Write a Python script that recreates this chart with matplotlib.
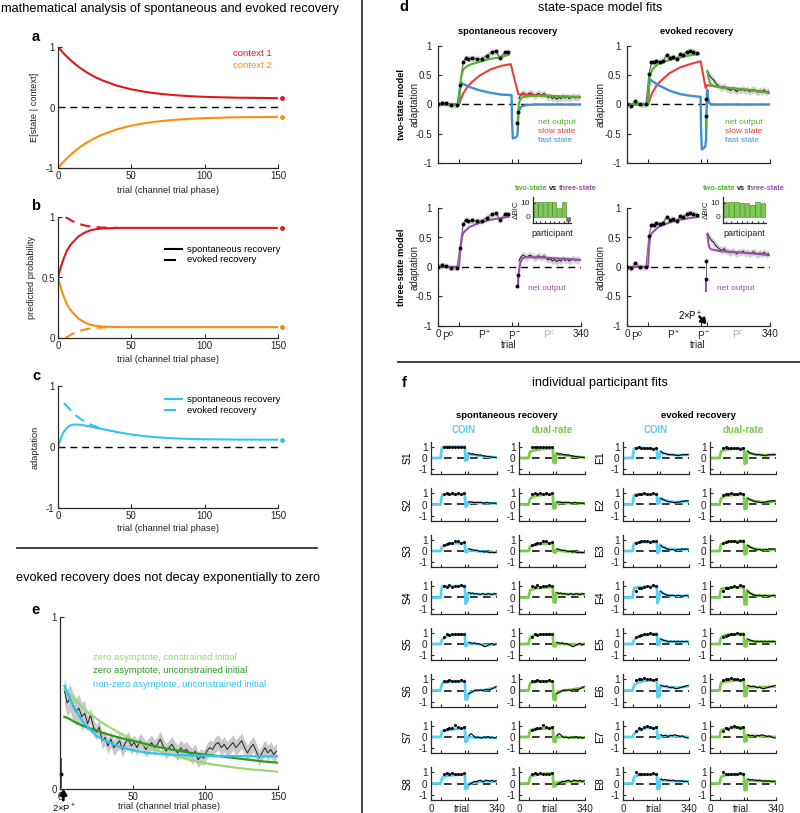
import numpy as np
import matplotlib.pyplot as plt
from matplotlib.lines import Line2D

plt.rcParams['font.family'] = ['Liberation Sans', 'DejaVu Sans']
plt.rcParams['mathtext.fontset'] = 'custom'
plt.rcParams['mathtext.rm'] = 'Liberation Sans'
plt.rcParams['mathtext.it'] = 'Liberation Sans:italic'
plt.rcParams['mathtext.bf'] = 'Liberation Sans:bold'
plt.rcParams['axes.linewidth'] = 0.9

# colours
RED = '#e3161f'
ORANGE = '#ff8b10'
CYAN = '#2ec4f3'
LIGHT_GREEN = '#9bd873'
DARK_GREEN = '#2f9a20'
NET_GREEN = '#4cb526'
SLOW_RED = '#ee3b3b'
FAST_BLUE = '#3f8fd2'
PURPLE = '#9b4fae'
COIN_C = '#5ccdf3'
DUAL_C = '#7acb4e'
INK = '#222222'

# ---------------- panel a ----------------
a_trials = [0, 5, 10, 15, 20, 25, 30, 40, 50, 60, 70, 80, 90, 100, 120, 150]
a_ctx1 = [1.0, 0.865, 0.751, 0.655, 0.574, 0.507, 0.450, 0.362, 0.300, 0.256, 0.225, 0.203, 0.187, 0.176, 0.163, 0.155]
a_ctx2 = [-1.0, -0.865, -0.751, -0.655, -0.574, -0.507, -0.450, -0.362, -0.300, -0.256, -0.225, -0.203, -0.187, -0.176, -0.163, -0.155]

# ---------------- panel b ----------------
b_trials = [0, 2, 4, 6, 8, 10, 14, 18, 22, 26, 30, 40, 150]
b_spont_ctx1 = [0.5, 0.59, 0.66, 0.72, 0.76, 0.79, 0.84, 0.87, 0.89, 0.90, 0.905, 0.91, 0.91]
b_spont_ctx2 = [0.5, 0.41, 0.34, 0.28, 0.24, 0.21, 0.16, 0.13, 0.11, 0.10, 0.095, 0.09, 0.09]
b_ev_trials = [5, 10, 15, 20, 25, 30, 40]
b_ev_ctx1 = [1.0, 0.965, 0.94, 0.925, 0.917, 0.913, 0.91]
b_ev_ctx2 = [0.0, 0.035, 0.06, 0.075, 0.083, 0.087, 0.09]

# ---------------- panel c ----------------
c_trials = [0, 2, 4, 6, 8, 10, 12, 15, 20, 25, 30, 40, 50, 60, 70, 80, 90, 100, 120, 150]
c_spont = [0, 0.15, 0.25, 0.31, 0.35, 0.365, 0.37, 0.365, 0.345, 0.32, 0.295, 0.245, 0.205, 0.175, 0.155,
           0.14, 0.132, 0.127, 0.122, 0.12]
c_ev_trials = [4, 8, 12, 16, 20, 25, 30]
c_ev = [0.72, 0.62, 0.52, 0.45, 0.39, 0.34, 0.30]

# ---------------- panel e ----------------
e_adapt = [0.57, 0.50, 0.53, 0.48, 0.45, 0.47, 0.42, 0.44, 0.38, 0.43,
           0.36, 0.33, 0.36, 0.28, 0.30, 0.25, 0.29, 0.24, 0.26, 0.28,
           0.23, 0.27, 0.29, 0.25, 0.27, 0.24, 0.28, 0.26, 0.23, 0.25,
           0.27, 0.24, 0.26, 0.29, 0.25, 0.22, 0.24, 0.26, 0.23, 0.21,
           0.24, 0.22, 0.23, 0.21, 0.19, 0.22, 0.17, 0.19, 0.18, 0.22,
           0.24, 0.23, 0.26, 0.27, 0.24, 0.26, 0.23, 0.25, 0.27, 0.24,
           0.26, 0.28, 0.24, 0.21, 0.24, 0.26, 0.22, 0.18, 0.21, 0.24,
           0.21, 0.23, 0.20, 0.22]
e_trials = np.arange(3, 3 + 2 * len(e_adapt), 2)
e_sem_early = 0.08
e_sem_late = 0.045
e_fit_trials = [3, 6, 10, 15, 20, 25, 30, 40, 50, 60, 70, 80, 90, 100, 110, 120, 130, 140, 150]
e_nonzero = [0.60, 0.54, 0.47, 0.40, 0.35, 0.31, 0.285, 0.248, 0.225, 0.21, 0.203, 0.198, 0.195, 0.193,
             0.192, 0.191, 0.19, 0.19, 0.19]
e_zero_constr = [0.58, 0.555, 0.52, 0.48, 0.44, 0.41, 0.38, 0.33, 0.285, 0.25, 0.215, 0.19, 0.168, 0.15,
                 0.137, 0.125, 0.115, 0.108, 0.10]
e_zero_free = [0.42, 0.41, 0.39, 0.37, 0.355, 0.34, 0.325, 0.30, 0.28, 0.26, 0.24, 0.225, 0.21, 0.20,
               0.19, 0.18, 0.17, 0.16, 0.153]
e_first = 0.085
e_first_lo, e_first_hi = 0.01, 0.18

# ---------------- panel d ----------------
d_sp_trials = [0, 10, 20, 30, 45, 52, 60, 66, 72, 80, 92, 104, 116, 128, 138, 147, 159, 167]
d_sp_data = [0.0, 0.03, 0.02, -0.01, -0.01, 0.33, 0.73, 0.80, 0.78, 0.79, 0.78, 0.78, 0.835, 0.89, 0.91,
             0.80, 0.89, 0.90]
d_sp_pm_trials = [189, 190]
d_sp_pm = [-0.32, -0.13]
d_sp_pc = [0.10, 0.17, 0.20, 0.18, 0.16, 0.20, 0.19, 0.17, 0.15, 0.19, 0.18, 0.16, 0.19, 0.15, 0.12,
           0.14, 0.10, 0.13, 0.09, 0.12, 0.10, 0.14, 0.11, 0.13, 0.10, 0.12, 0.14, 0.11, 0.13, 0.12]
d_sp_pc_trials = np.arange(192, 192 + 5 * len(d_sp_pc), 5)

d_ev_trials = [0, 10, 20, 30, 45, 52, 58, 64, 70, 78, 86, 94, 102, 110, 118, 126, 134, 142, 150, 158, 166]
d_ev_data = [0.0, -0.02, 0.06, 0.0, 0.0, 0.52, 0.72, 0.72, 0.74, 0.73, 0.75, 0.85, 0.80, 0.82, 0.78,
             0.86, 0.85, 0.90, 0.92, 0.90, 0.88]
d_ev_pm_trials = [188, 188]
d_ev_pm = [0.10, -0.20]
d_ev_pc = [0.57, 0.50, 0.45, 0.42, 0.36, 0.33, 0.30, 0.28, 0.31, 0.27, 0.26, 0.24, 0.27, 0.25, 0.22,
           0.26, 0.24, 0.27, 0.23, 0.25, 0.22, 0.24, 0.26, 0.23, 0.21, 0.24, 0.22, 0.25, 0.21, 0.23]
d_ev_pc_trials = np.arange(191, 191 + 5 * len(d_ev_pc), 5)
d_sem = 0.05

# two-state, spontaneous
sp_slow_t = [0, 50, 55, 60, 70, 80, 100, 125, 150, 173, 191, 220, 260, 300, 340]
sp_slow = [0, 0, 0.1, 0.19, 0.3, 0.38, 0.5, 0.6, 0.66, 0.69, 0.175, 0.165, 0.15, 0.135, 0.12]
sp_fast_t = [0, 50, 52, 55, 60, 75, 100, 125, 150, 175, 176, 178, 186, 189, 190, 191, 193, 196, 200,
             210, 230, 340]
sp_fast = [0, 0, 0.25, 0.37, 0.35, 0.3, 0.24, 0.2, 0.17, 0.16, -0.3, -0.58, -0.56, -0.52, -0.35, -0.17,
           -0.1, -0.06, -0.03, -0.01, 0, 0]
sp_net_t = [0, 50, 52, 54, 56, 60, 70, 80, 100, 125, 150, 168]
sp_net = [0, 0, 0.25, 0.42, 0.5, 0.6, 0.66, 0.69, 0.73, 0.78, 0.81, 0.85]
sp_net_pc_t = [189, 190, 192, 195, 200, 210, 230, 260, 300, 340]
sp_net_pc = [-0.33, -0.2, 0.0, 0.08, 0.12, 0.14, 0.15, 0.15, 0.14, 0.13]

# two-state, evoked
ev_slow_t = [0, 50, 55, 60, 70, 80, 100, 125, 150, 175, 187, 190, 220, 260, 300, 340]
ev_slow = [0, 0, 0.1, 0.2, 0.32, 0.4, 0.53, 0.63, 0.69, 0.74, 0.28, 0.33, 0.3, 0.27, 0.24, 0.2]
ev_fast_t = [0, 50, 52, 55, 60, 75, 100, 125, 150, 175, 176, 178, 186, 188, 189, 190, 191, 193, 196,
             200, 340]
ev_fast = [0, 0, 0.3, 0.43, 0.4, 0.33, 0.24, 0.18, 0.15, 0.13, -0.4, -0.77, -0.72, -0.6, -0.2, 0.2,
           0.25, 0.1, 0.02, 0, 0]
ev_net_t = [0, 50, 52, 54, 56, 60, 75, 100, 125, 150, 170]
ev_net = [0, 0, 0.3, 0.48, 0.52, 0.6, 0.7, 0.76, 0.8, 0.84, 0.86]
ev_net_pm_t = [188, 188]
ev_net_pm = [-0.38, -0.2]
ev_net_pc_t = [191, 194, 197, 200, 210, 230, 260, 300, 340]
ev_net_pc = [0.57, 0.45, 0.38, 0.34, 0.31, 0.29, 0.27, 0.24, 0.2]

# three-state
sp3_t = [0, 50, 53, 57, 60, 75, 100, 125, 150, 168]
sp3 = [0, 0, 0.3, 0.5, 0.58, 0.68, 0.75, 0.8, 0.83, 0.85]
sp3_pc_t = [190, 192, 195, 200, 210, 250, 300, 340]
sp3_pc = [-0.33, -0.1, 0.05, 0.14, 0.17, 0.16, 0.14, 0.12]
ev3_t = [0, 50, 52, 55, 60, 75, 100, 125, 150, 170]
ev3 = [0, 0, 0.3, 0.52, 0.58, 0.68, 0.75, 0.8, 0.83, 0.85]
ev3_pm_t = [188, 188]
ev3_pm = [-0.4, -0.2]
ev3_pc_t = [191, 194, 197, 200, 220, 260, 300, 340]
ev3_pc = [0.55, 0.38, 0.32, 0.3, 0.27, 0.25, 0.23, 0.2]

bic_spont = [10.5, 10.5, 10.5, 10.5, 10.5, 6, 10.5, -3]
bic_evoked = [10.3, 10.3, 10.3, 10.0, 9.5, 8.5, 10.3, 9.8]

phase_ticks = [0, 50, 175, 190, 340]
phase_labels = ['0', 'P$^0$', 'P$^+$', 'P$^-$', 'P$^c$', '340']
phase_label_pos = [0, 25, 112, 182, 265, 340]

# ---------------- panel f ----------------
f_knots = [0, 50, 53, 58, 80, 120, 174, 178, 188, 191, 200, 230, 280, 340]
coin_spont = [
    [0, 0, 0.6, 0.95, 1.0, 1.0, 1.0, -0.25, -0.1, 0.38, 0.33, 0.25, 0.12, 0.05],
    [0, 0, 0.5, 0.85, 0.9, 0.9, 0.92, -0.2, -0.1, 0.2, 0.18, 0.15, 0.12, 0.1],
    [0, 0, 0.2, 0.4, 0.55, 0.68, 0.7, -0.1, -0.05, 0.12, 0.08, 0.0, -0.08, -0.1],
    [0, 0, 0.6, 1.0, 1.0, 1.0, 1.02, -0.55, -0.3, 0.4, 0.35, 0.3, 0.3, 0.3],
    [0, 0, 0.2, 0.4, 0.7, 0.82, 0.85, -0.2, -0.1, 0.1, 0.08, 0.0, -0.1, 0.0],
    [0, 0, 0.4, 0.65, 0.72, 0.8, 0.85, -0.8, -0.75, -0.4, -0.15, 0.0, 0.05, 0.3],
    [0, 0, 0.25, 0.5, 0.6, 0.7, 0.8, -0.45, -0.3, -0.05, 0.0, -0.05, -0.05, -0.1],
    [0, 0, 0.25, 0.5, 0.65, 0.75, 0.8, -0.5, -0.4, -0.1, 0.0, 0.1, 0.2, 0.2],
]
dual_spont = [
    [0, 0, 0.35, 0.55, 0.7, 0.8, 0.85, -0.4, -0.45, 0.35, 0.32, 0.25, 0.12, 0.05],
    [0, 0, 0.3, 0.55, 0.75, 0.85, 0.9, -0.35, -0.3, 0.15, 0.15, 0.13, 0.12, 0.1],
    [0, 0, 0.2, 0.4, 0.55, 0.65, 0.7, -0.1, -0.15, 0.1, 0.05, -0.02, -0.1, -0.15],
    [0, 0, 0.4, 0.65, 0.8, 0.88, 0.92, -0.4, -0.45, 0.4, 0.35, 0.3, 0.3, 0.3],
    [0, 0, 0.35, 0.6, 0.8, 0.85, 0.87, -0.2, -0.2, 0.08, 0.05, 0.0, -0.05, 0.0],
    [0, 0, 0.4, 0.65, 0.75, 0.8, 0.82, -0.8, -0.85, -0.3, -0.1, 0.0, 0.1, 0.3],
    [0, 0, 0.35, 0.6, 0.7, 0.75, 0.8, -0.4, -0.45, 0.0, 0.0, 0.0, -0.05, -0.05],
    [0, 0, 0.35, 0.6, 0.75, 0.85, 0.9, -0.3, -0.2, 0.05, 0.1, 0.15, 0.2, 0.2],
]
coin_evoked = [
    [0, 0, 0.5, 0.88, 0.9, 0.85, 0.8, -0.05, 0.0, 0.55, 0.45, 0.32, 0.25, 0.3],
    [0, 0, 0.5, 0.85, 0.9, 0.9, 0.9, 0.1, 0.1, 0.55, 0.45, 0.3, 0.2, 0.3],
    [0, 0, 0.4, 0.7, 0.75, 0.8, 0.8, -0.2, 0.0, 0.55, 0.4, 0.2, 0.12, 0.15],
    [0, 0, 0.5, 0.85, 0.9, 0.95, 1.0, -0.5, 0.1, 0.55, 0.4, 0.2, 0.15, 0.15],
    [0, 0, 0.2, 0.4, 0.7, 0.82, 0.9, -0.1, 0.0, 0.45, 0.35, 0.22, 0.2, 0.2],
    [0, 0, 0.2, 0.5, 0.75, 0.88, 0.9, -0.6, -0.5, 0.45, 0.4, 0.3, 0.25, 0.4],
    [0, 0, 0.15, 0.3, 0.6, 0.8, 0.8, -0.15, -0.1, 0.15, 0.1, 0.1, 0.05, 0.0],
    [0, 0, 0.3, 0.6, 0.75, 0.8, 0.8, -0.5, -0.4, 0.35, 0.3, 0.25, 0.2, 0.2],
]
dual_evoked = [
    [0, 0, 0.35, 0.6, 0.75, 0.82, 0.85, -0.5, -0.45, 0.6, 0.45, 0.32, 0.25, 0.3],
    [0, 0, 0.3, 0.55, 0.75, 0.85, 0.9, -0.4, -0.35, 0.55, 0.45, 0.3, 0.2, 0.3],
    [0, 0, 0.35, 0.6, 0.75, 0.85, 0.9, -0.3, -0.25, 0.5, 0.4, 0.2, 0.1, 0.15],
    [0, 0, 0.45, 0.75, 0.85, 0.9, 0.92, -0.6, -0.6, 0.65, 0.45, 0.2, 0.15, 0.15],
    [0, 0, 0.35, 0.6, 0.8, 0.85, 0.9, -0.2, -0.2, 0.4, 0.3, 0.22, 0.2, 0.2],
    [0, 0, 0.4, 0.7, 0.8, 0.88, 0.9, -0.5, -0.45, 0.35, 0.3, 0.3, 0.3, 0.35],
    [0, 0, 0.35, 0.6, 0.75, 0.82, 0.85, -0.4, -0.35, 0.15, 0.1, 0.1, 0.05, 0.0],
    [0, 0, 0.35, 0.6, 0.75, 0.82, 0.85, -0.6, -0.55, 0.3, 0.3, 0.25, 0.2, 0.2],
]
f_plus_trials = [65, 80, 95, 110, 125, 140, 155, 170]
spont_plus = [
    [0.95, 1.0, 0.95, 0.98, 1.0, 0.95, 1.0, 0.98],
    [0.9, 1.0, 0.95, 1.0, 0.9, 1.05, 0.95, 1.0],
    [0.55, 0.6, 0.7, 0.75, 0.9, 0.85, 0.7, 0.8],
    [1.05, 0.95, 1.1, 0.9, 1.05, 1.0, 1.1, 1.05],
    [0.6, 0.85, 0.8, 0.85, 0.9, 0.85, 0.9, 0.85],
    [0.85, 0.8, 0.9, 0.85, 0.8, 0.85, 0.9, 0.85],
    [0.6, 0.75, 0.8, 0.8, 1.1, 0.85, 0.8, 0.9],
    [0.8, 0.9, 0.8, 0.9, 0.85, 0.8, 0.85, 0.95],
]
evoked_plus = [
    [0.9, 0.95, 0.9, 0.85, 0.9, 0.85, 0.8, 0.9],
    [0.8, 0.9, 0.95, 1.0, 0.9, 0.95, 1.0, 0.95],
    [0.7, 0.8, 0.9, 0.85, 0.9, 0.8, 0.85, 0.9],
    [0.6, 0.85, 0.8, 0.9, 1.0, 0.9, 1.1, 1.05],
    [0.6, 0.7, 0.8, 0.85, 0.9, 1.0, 0.85, 0.9],
    [0.9, 1.05, 1.0, 1.1, 1.0, 1.0, 0.95, 1.0],
    [0.5, 0.8, 0.75, 0.9, 1.0, 0.9, 0.8, 0.85],
    [1.0, 0.8, 0.85, 0.8, 0.85, 0.8, 0.9, 0.85],
]
f_pc_trials = np.arange(195, 340, 10)
spont_pc = [
    [0.45, 0.35, 0.38, 0.3, 0.3, 0.25, 0.28, 0.2, 0.18, 0.15, 0.12, 0.1, 0.08, 0.06, 0.05],
    [0.2, 0.25, 0.2, 0.15, 0.2, 0.18, 0.2, 0.15, 0.1, 0.2, 0.15, 0.12, 0.15, 0.1, 0.12],
    [0.2, 0.15, 0.1, 0.05, 0.08, 0.0, -0.05, 0.0, -0.1, -0.05, -0.1, -0.15, -0.1, -0.15, -0.12],
    [0.45, 0.35, 0.4, 0.3, 0.35, 0.3, 0.25, 0.35, 0.3, 0.25, 0.35, 0.3, 0.25, 0.35, 0.3],
    [0.15, 0.1, 0.05, 0.1, 0.0, 0.05, -0.05, -0.1, -0.25, -0.2, -0.1, 0.0, 0.05, -0.1, 0.0],
    [-0.3, -0.2, -0.1, 0.0, 0.05, 0.0, 0.05, 0.0, 0.05, 0.1, 0.05, 0.1, 0.15, 0.25, 0.35],
    [0.1, 0.3, 0.2, 0.0, -0.05, 0.0, -0.1, -0.05, 0.0, -0.05, 0.05, -0.1, 0.0, -0.1, -0.05],
    [-0.1, 0.0, 0.1, 0.2, 0.15, 0.25, 0.3, 0.15, 0.2, 0.3, 0.25, 0.2, 0.3, 0.15, 0.25],
]
evoked_pc = [
    [0.6, 0.45, 0.4, 0.35, 0.3, 0.28, 0.3, 0.25, 0.25, 0.2, 0.25, 0.3, 0.28, 0.3, 0.3],
    [0.55, 0.45, 0.38, 0.3, 0.25, 0.22, 0.2, 0.15, 0.2, 0.2, 0.25, 0.3, 0.3, 0.35, 0.3],
    [0.5, 0.35, 0.3, 0.2, 0.15, 0.1, 0.15, 0.05, 0.1, 0.15, 0.1, 0.2, 0.15, 0.2, 0.15],
    [0.55, 0.4, 0.3, 0.2, 0.2, 0.15, 0.2, 0.15, 0.15, 0.2, 0.15, 0.1, 0.15, 0.2, 0.15],
    [0.45, 0.35, 0.3, 0.25, 0.2, 0.25, 0.2, 0.25, 0.2, 0.25, 0.2, 0.25, 0.2, 0.25, 0.2],
    [0.45, 0.4, 0.35, 0.4, 0.3, 0.25, 0.3, 0.2, 0.15, 0.2, 0.25, 0.3, 0.35, 0.4, 0.45],
    [0.2, 0.1, 0.15, 0.1, 0.05, 0.15, 0.1, 0.2, 0.15, 0.1, 0.05, 0.1, 0.0, -0.05, -0.1],
    [0.4, 0.3, 0.35, 0.3, 0.3, 0.25, 0.3, 0.25, 0.2, 0.25, 0.2, 0.25, 0.15, 0.2, 0.15],
]

# ---------------- figure helpers ----------------
W, H = 800, 813
fig = plt.figure(figsize=(W / 100, H / 100), dpi=100)

TICK_FS = 7.0
LABEL_FS = 6.7


def add_ax(left, top, right, bottom):
    ax = fig.add_axes([left / W, 1 - bottom / H, (right - left) / W, (bottom - top) / H])
    ax.patch.set_alpha(0)
    return ax


def ftext(x, y, s, **kw):
    kw.setdefault('ha', 'center')
    kw.setdefault('va', 'center')
    return fig.text(x / W, 1 - y / H, s, **kw)


def fline(x0, y0, x1, y1, lw=1.3, color='#333333'):
    fig.add_artist(Line2D([x0 / W, x1 / W], [1 - y0 / H, 1 - y1 / H], transform=fig.transFigure,
                          color=color, lw=lw))


def style(ax, xlim, ylim, xticks, yticks, xlabels=None, ylabels=None, fs=TICK_FS, pad=2.5, ticklen=3):
    for s in ('top', 'right'):
        ax.spines[s].set_visible(False)
    for s in ('left', 'bottom'):
        ax.spines[s].set_color('#2a2a2a')
    ax.set_xlim(*xlim)
    ax.set_ylim(*ylim)
    ax.set_xticks(xticks)
    ax.set_yticks(yticks)
    ax.set_xticklabels(xlabels if xlabels is not None else [''] * len(xticks))
    ax.set_yticklabels(ylabels if ylabels is not None else [''] * len(yticks))
    ax.tick_params(direction='in', length=ticklen, width=0.8, labelsize=fs, pad=pad,
                   colors='#2a2a2a', labelcolor=INK)


def zero_line(ax, x0, x1, lw=1.0):
    ax.plot([x0, x1], [0, 0], color='black', lw=lw, ls=(0, (5, 3.5)), zorder=1)


# ---------------- left column: a, b, c ----------------
ftext(170, 9, 'mathematical analysis of spontaneous and evoked recovery', fontsize=9.2)
trial_xt = [0, 50, 100, 150]
trial_xl = ['0', '50', '100', '150']

ax_a = add_ax(58, 47, 278, 168)
style(ax_a, (0, 150), (-1, 1), trial_xt, [-1, 0, 1], trial_xl, ['-1', '0', '1'])
zero_line(ax_a, 0, 150)
ax_a.plot(a_trials, a_ctx1, color=RED, lw=1.5)
ax_a.plot(a_trials, a_ctx2, color=ORANGE, lw=1.5)
ax_a.plot([153], [a_ctx1[-1]], 'o', color=RED, ms=2.5, clip_on=False)
ax_a.plot([153], [a_ctx2[-1]], 'o', color=ORANGE, ms=2.5, clip_on=False)
ax_a.set_ylabel('E[state | context]', fontsize=LABEL_FS, color=INK)
ax_a.yaxis.set_label_coords(-0.085, 0.5)
ax_a.set_xlabel('trial (channel trial phase)', fontsize=LABEL_FS, color=INK)
ax_a.xaxis.set_label_coords(0.5, -0.15)
ftext(233, 53, 'context 1', color=RED, fontsize=6.8, ha='left')
ftext(233, 65, 'context 2', color=ORANGE, fontsize=6.8, ha='left')
ftext(36, 37, 'a', fontsize=10.5, fontweight='bold')

ax_b = add_ax(58, 217, 278, 338)
style(ax_b, (0, 150), (0, 1), trial_xt, [0, 0.5, 1], trial_xl, ['0', '0.5', '1'])
ax_b.plot(b_trials, b_spont_ctx1, color=RED, lw=1.5)
ax_b.plot(b_trials, b_spont_ctx2, color=ORANGE, lw=1.5)
ax_b.plot(b_ev_trials, b_ev_ctx1, color=RED, lw=1.5, ls=(0, (5, 3)))
ax_b.plot(b_ev_trials, b_ev_ctx2, color=ORANGE, lw=1.5, ls=(0, (5, 3)), clip_on=False)
ax_b.plot([153], [b_spont_ctx1[-1]], 'o', color=RED, ms=2.5, clip_on=False)
ax_b.plot([153], [b_spont_ctx2[-1]], 'o', color=ORANGE, ms=2.5, clip_on=False)
ax_b.set_ylabel('predicted probability', fontsize=LABEL_FS, color=INK)
ax_b.yaxis.set_label_coords(-0.1, 0.5)
ax_b.set_xlabel('trial (channel trial phase)', fontsize=LABEL_FS, color=INK)
ax_b.xaxis.set_label_coords(0.5, -0.14)
fline(165, 249, 182, 249, lw=1.5, color='black')
fline(165, 260, 175, 260, lw=1.5, color='black')
ftext(187, 249, 'spontaneous recovery', fontsize=6.8, ha='left')
ftext(187, 260, 'evoked recovery', fontsize=6.8, ha='left')
ftext(36, 206, 'b', fontsize=10.5, fontweight='bold')

ax_c = add_ax(58, 386, 278, 508)
style(ax_c, (0, 150), (-1, 1), trial_xt, [-1, 0, 1], trial_xl, ['-1', '0', '1'])
zero_line(ax_c, 0, 150)
ax_c.plot(c_trials, c_spont, color=CYAN, lw=1.5)
ax_c.plot(c_ev_trials, c_ev, color=CYAN, lw=1.5, ls=(0, (5, 3)))
ax_c.plot([153], [c_spont[-1]], 'o', color=CYAN, ms=2.5, clip_on=False)
ax_c.set_ylabel('adaptation', fontsize=LABEL_FS, color=INK)
ax_c.yaxis.set_label_coords(-0.085, 0.5)
ax_c.set_xlabel('trial (channel trial phase)', fontsize=LABEL_FS, color=INK)
ax_c.xaxis.set_label_coords(0.5, -0.13)
fline(165, 399, 182, 399, lw=1.5, color=CYAN)
fline(165, 410, 175, 410, lw=1.5, color=CYAN)
ftext(187, 399, 'spontaneous recovery', fontsize=6.8, ha='left')
ftext(187, 410, 'evoked recovery', fontsize=6.8, ha='left')
ftext(36, 376, 'c', fontsize=10.5, fontweight='bold')

fline(17, 548, 317, 548)

# ---------------- panel e ----------------
ftext(168, 578, 'evoked recovery does not decay exponentially to zero', fontsize=9.2)
ftext(36, 610, 'e', fontsize=10.5, fontweight='bold')
ax_e = add_ax(60, 617, 278, 789)
style(ax_e, (0, 150), (0, 1), trial_xt, [0, 1], trial_xl, ['0', '1'])
e_vals = np.array(e_adapt)
e_sem = np.array([e_sem_early] * 8 + [e_sem_late] * (len(e_adapt) - 8))
ax_e.fill_between(e_trials, e_vals - e_sem, e_vals + e_sem, color='#c9c9c9', lw=0)
ax_e.plot(e_trials, e_vals, color='#222222', lw=0.7)
ax_e.plot([0.8, 0.8], [e_first_lo, e_first_hi], color='#555555', lw=0.7, clip_on=False)
ax_e.plot([0.8], [e_first], 'o', color='black', ms=1.8, clip_on=False)
ax_e.plot(e_fit_trials, e_zero_constr, color=LIGHT_GREEN, lw=1.6)
ax_e.plot(e_fit_trials, e_zero_free, color=DARK_GREEN, lw=1.6)
ax_e.plot(e_fit_trials, e_nonzero, color=CYAN, lw=1.6)
ax_e.set_xlabel('trial (channel trial phase)', fontsize=LABEL_FS, color=INK)
ax_e.xaxis.set_label_coords(0.5, -0.075)
ax_e.annotate('', xy=(2.3, 0.0), xytext=(2.3, -0.065), xycoords='data',
              arrowprops=dict(arrowstyle='-|>,head_width=0.2,head_length=0.3', color='black', lw=2.0,
                              shrinkA=0, shrinkB=0),
              annotation_clip=False)
ax_e.text(3, -0.075, '2×P$^+$', fontsize=6.8, ha='center', va='top')
ftext(93, 657, 'zero asymptote, constrained initial', color=LIGHT_GREEN, fontsize=6.8, ha='left')
ftext(93, 670, 'zero asymptote, unconstrained initial', color=DARK_GREEN, fontsize=6.8, ha='left')
ftext(93, 684, 'non-zero asymptote, unconstrained initial', color=CYAN, fontsize=6.8, ha='left')

fline(362, 0, 362, 813)

# ---------------- panel d ----------------
ftext(404, 7, 'd', fontsize=10.5, fontweight='bold')
ftext(600, 8, 'state-space model fits', fontsize=9.2)
ftext(508, 32, 'spontaneous recovery', fontsize=6.7, fontweight='bold')
ftext(697, 32, 'evoked recovery', fontsize=6.7, fontweight='bold')
ftext(401, 105, 'two-state model', fontsize=6.7, fontweight='bold', rotation=90)
ftext(401, 267, 'three-state model', fontsize=6.7, fontweight='bold', rotation=90)

d_yt = [-1, -0.5, 0, 0.5, 1]
d_yl = ['-1', '-0.5', '0', '0.5', '1']


def d_axes(left, top, right, bottom, label_x):
    ax = add_ax(left, top, right, bottom)
    style(ax, (0, 340), (-1, 1), phase_ticks, d_yt, None, d_yl, pad=4.5)
    zero_line(ax, 0, 340)
    ax.set_ylabel('adaptation', fontsize=6.9, color=INK)
    # label_x is the right edge of the rotated label, in pixels
    ax.yaxis.set_label_coords((label_x - left) / (right - left), 0.5)
    return ax


def d_data(ax, t_plus, v_plus, t_pm, v_pm, t_pc, v_pc):
    v_plus = np.array(v_plus)
    v_pc = np.array(v_pc)
    ax.fill_between(t_plus, v_plus - d_sem, v_plus + d_sem, color='#d2d2d2', lw=0)
    ax.plot(t_plus, v_plus, color='#6e6e6e', lw=0.8)
    ax.fill_between(t_pc, v_pc - d_sem * 1.2, v_pc + d_sem * 1.2, color='#d2d2d2', lw=0)
    ax.plot(t_pc, v_pc, color='#1a1a1a', lw=0.7)
    ax.plot(t_pm, v_pm, color='#6e6e6e', lw=0.7)


def d_dots(ax, t_plus, v_plus, t_pm, v_pm):
    ax.plot(t_plus, v_plus, 'o', color='black', ms=1.8, zorder=6)
    ax.plot(t_pm, v_pm, 'o', color='black', ms=1.8, zorder=6)


def d_phase_labels(ax):
    tr = ax.get_xaxis_transform()
    for lab, pos in zip(phase_labels, phase_label_pos):
        col = '#b3b3b3' if lab == 'P$^c$' else INK
        ax.text(pos, -0.025, lab, transform=tr, ha='center', va='top', fontsize=7.2, color=col)
    ax.text(168, -0.16, 'trial', transform=tr, ha='center', va='center', fontsize=6.9, color=INK)


ax_d1 = d_axes(438, 46, 581, 163, 420)
d_data(ax_d1, d_sp_trials, d_sp_data, d_sp_pm_trials, d_sp_pm, d_sp_pc_trials, d_sp_pc)
ax_d1.plot(sp_slow_t, sp_slow, color=SLOW_RED, lw=1.5)
ax_d1.plot(sp_fast_t, sp_fast, color=FAST_BLUE, lw=1.7)
ax_d1.plot(sp_net_t, sp_net, color=NET_GREEN, lw=1.5)
ax_d1.plot(sp_net_pc_t, sp_net_pc, color=NET_GREEN, lw=1.5)
d_dots(ax_d1, d_sp_trials, d_sp_data, d_sp_pm_trials, d_sp_pm)
ftext(538, 123, 'net output', color=NET_GREEN, fontsize=6.0, ha='left')
ftext(538, 131.5, 'slow state', color=SLOW_RED, fontsize=6.0, ha='left')
ftext(538, 140, 'fast state', color=FAST_BLUE, fontsize=6.0, ha='left')

ax_d2 = d_axes(627, 46, 770, 163, 606)
d_data(ax_d2, d_ev_trials, d_ev_data, d_ev_pm_trials, d_ev_pm, d_ev_pc_trials, d_ev_pc)
ax_d2.plot(ev_slow_t, ev_slow, color=SLOW_RED, lw=1.5)
ax_d2.plot(ev_fast_t, ev_fast, color=FAST_BLUE, lw=1.7)
ax_d2.plot(ev_net_t, ev_net, color=NET_GREEN, lw=1.5)
ax_d2.plot(ev_net_pm_t, ev_net_pm, color=NET_GREEN, lw=1.5)
ax_d2.plot(ev_net_pc_t, ev_net_pc, color=NET_GREEN, lw=1.5)
d_dots(ax_d2, d_ev_trials, d_ev_data, d_ev_pm_trials, d_ev_pm)
ftext(725, 123, 'net output', color=NET_GREEN, fontsize=6.0, ha='left')
ftext(725, 131.5, 'slow state', color=SLOW_RED, fontsize=6.0, ha='left')
ftext(725, 140, 'fast state', color=FAST_BLUE, fontsize=6.0, ha='left')

ax_d3 = d_axes(438, 208, 581, 326, 420)
d_data(ax_d3, d_sp_trials, d_sp_data, d_sp_pm_trials, d_sp_pm, d_sp_pc_trials, d_sp_pc)
ax_d3.plot(sp3_t, sp3, color=PURPLE, lw=1.5)
ax_d3.plot(sp3_pc_t, sp3_pc, color=PURPLE, lw=1.5)
d_dots(ax_d3, d_sp_trials, d_sp_data, d_sp_pm_trials, d_sp_pm)
d_phase_labels(ax_d3)
ftext(528, 288, 'net output', color=PURPLE, fontsize=6.0, ha='left')

ax_d4 = d_axes(627, 208, 770, 326, 606)
d_data(ax_d4, d_ev_trials, d_ev_data, d_ev_pm_trials, d_ev_pm, d_ev_pc_trials, d_ev_pc)
ax_d4.plot(ev3_t, ev3, color=PURPLE, lw=1.5)
ax_d4.plot(ev3_pm_t, ev3_pm, color=PURPLE, lw=1.5)
ax_d4.plot(ev3_pc_t, ev3_pc, color=PURPLE, lw=1.5)
d_dots(ax_d4, d_ev_trials, d_ev_data, d_ev_pm_trials, d_ev_pm)
d_phase_labels(ax_d4)
ftext(717, 288, 'net output', color=PURPLE, fontsize=6.0, ha='left')
ax_d4.annotate('', xy=(189, -0.97), xytext=(172, -0.84), xycoords='data',
               arrowprops=dict(arrowstyle='-|>,head_width=0.2,head_length=0.3', color='black', lw=1.8,
                               shrinkA=0, shrinkB=0),
               annotation_clip=False)
ax_d4.text(150, -0.83, '2×P$^+$', fontsize=6.9, ha='center', va='center')


def bic_inset(left, right, values, hx):
    ax = add_ax(left, 197, right, 223)
    style(ax, (-0.6, len(values) - 0.4), (-4.5, 14), list(range(len(values))), [0, 10], None, ['0', '10'],
          fs=6.0, pad=2, ticklen=1.5)
    ax.axhline(0, color='#9a9a9a', lw=0.5)
    cols = [DUAL_C if v > 0 else PURPLE for v in values]
    ax.bar(range(len(values)), values, width=0.85, color=cols, edgecolor='#3d7a22', lw=0.4)
    ax.set_ylabel('ΔBIC', fontsize=5.8, color=INK, labelpad=1)
    ax.set_xlabel('participant', fontsize=6.5, color=INK, labelpad=2)
    ftext(hx, 189, 'two-state', color=NET_GREEN, fontsize=5.3, fontweight='bold', ha='left')
    ftext(hx + 34, 189, 'vs', color=INK, fontsize=5.3, fontweight='bold', ha='left')
    ftext(hx + 44, 189, 'three-state', color=PURPLE, fontsize=5.3, fontweight='bold', ha='left')
    return ax


bic_inset(533, 571, bic_spont, 515)
bic_inset(723, 766, bic_evoked, 703)

fline(398, 362, 800, 362)

# ---------------- panel f ----------------
ftext(404, 383, 'f', fontsize=10.5, fontweight='bold')
ftext(600, 383, 'individual participant fits', fontsize=9.2)
ftext(507, 415, 'spontaneous recovery', fontsize=6.8, fontweight='bold')
ftext(698, 415, 'evoked recovery', fontsize=6.8, fontweight='bold')

f_cols = [431, 519, 623, 710]
f_headers = [('COIN', COIN_C), ('dual-rate', DUAL_C), ('COIN', COIN_C), ('dual-rate', DUAL_C)]
f_models = [coin_spont, dual_spont, coin_evoked, dual_evoked]
f_plus = [spont_plus, spont_plus, evoked_plus, evoked_plus]
f_pc = [spont_pc, spont_pc, evoked_pc, evoked_pc]
f_colors = [COIN_C, DUAL_C, COIN_C, DUAL_C]

for j, left in enumerate(f_cols):
    ftext(left + 33, 430, f_headers[j][0], color=f_headers[j][1], fontsize=7.0, fontweight='bold')
    for i in range(8):
        zero = 458 + 46.5 * i
        ax = add_ax(left, zero - 1.42 * 11.3, left + 66, zero + 1.45 * 11.3)
        style(ax, (0, 340), (-1.45, 1.42), phase_ticks, [-1, 0, 1], None, ['-1', '0', '1'],
              fs=7.2, pad=2.5, ticklen=2)
        zero_line(ax, 0, 340, lw=1.1)
        ax.plot(f_knots, f_models[j][i], color=f_colors[j], lw=2.0, solid_joinstyle='round')
        ax.plot(f_pc_trials, f_pc[j][i], color='black', lw=0.8)
        ax.plot(f_plus_trials, f_plus[j][i], 'o', color='black', ms=1.2)
        if j in (0, 2):
            tag = ('S' if j == 0 else 'E') + str(i + 1)
            ftext(left - 23, zero, tag, fontsize=7.5, rotation=90)
        if i == 7:
            tr = ax.get_xaxis_transform()
            for lab, pos in (('0', 0), ('trial', 160), ('340', 340)):
                ax.text(pos, -0.12, lab, transform=tr, ha='center', va='top', fontsize=7.2, color=INK)

fig.savefig('out.png', dpi=100)
